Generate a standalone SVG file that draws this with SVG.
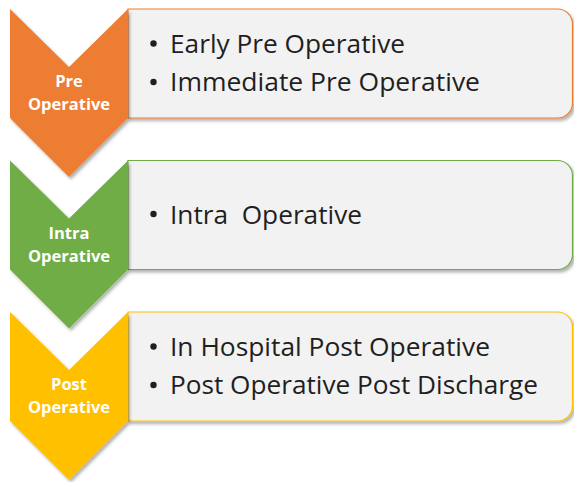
<svg xmlns="http://www.w3.org/2000/svg" width="574" height="482" viewBox="0 0 574 482">
  <style>
    .lbl { font-family: "Open Sans", "Liberation Sans", sans-serif; font-weight: bold; font-size: 16.5px; fill: #ffffff; text-anchor: middle; }
    .item { font-family: "Open Sans", "Liberation Sans", sans-serif; font-size: 25px; fill: #1f1f1f; }
    .box { fill: #f2f2f2; stroke-width: 1.2; }
    .dot { fill: #1f1f1f; }
  </style>
  <defs>
    <filter id="sh" x="-10%" y="-10%" width="125%" height="125%">
      <feDropShadow dx="2" dy="2.5" stdDeviation="1.6" flood-color="#000" flood-opacity="0.3"/>
    </filter>
  </defs>

  <g id="stage-pre">
    <path class="box" stroke="#ED7D31" filter="url(#sh)" d="M128,9 H557.5 A15,15 0 0 1 572.5,24 V103 A15,15 0 0 1 557.5,118 H128 Z"/>
    <path fill="#ED7D31" filter="url(#sh)" d="M10,9 L69,67 L128,9 L128,118 L69,177 L10,118 Z"/>
    <text class="lbl" x="69" y="87">Pre</text>
    <text class="lbl" x="69" y="110">Operative</text>
    <circle class="dot" cx="153.5" cy="43.5" r="3.2"/>
    <text class="item" x="170" y="53" textLength="235" lengthAdjust="spacingAndGlyphs">Early Pre Operative</text>
    <circle class="dot" cx="153.5" cy="82" r="3.2"/>
    <text class="item" x="170" y="91" textLength="310" lengthAdjust="spacingAndGlyphs">Immediate Pre Operative</text>
  </g>

  <g id="stage-intra">
    <path class="box" stroke="#70AD47" filter="url(#sh)" d="M128,160.5 H557.5 A15,15 0 0 1 572.5,175.5 V254.5 A15,15 0 0 1 557.5,269.5 H128 Z"/>
    <path fill="#70AD47" filter="url(#sh)" d="M10,160.5 L69,218.5 L128,160.5 L128,269.5 L69,328.5 L10,269.5 Z"/>
    <text class="lbl" x="69" y="238.5">Intra</text>
    <text class="lbl" x="69" y="261.5">Operative</text>
    <circle class="dot" cx="153.5" cy="214" r="3.2"/>
    <text class="item" x="170" y="223.5" textLength="192" lengthAdjust="spacingAndGlyphs" xml:space="preserve">Intra  Operative</text>
  </g>

  <g id="stage-post">
    <path class="box" stroke="#FFC000" filter="url(#sh)" d="M128,312 H557.5 A15,15 0 0 1 572.5,327 V406 A15,15 0 0 1 557.5,421 H128 Z"/>
    <path fill="#FFC000" filter="url(#sh)" d="M10,312 L69,370 L128,312 L128,421 L69,480 L10,421 Z"/>
    <text class="lbl" x="69" y="390">Post</text>
    <text class="lbl" x="69" y="413">Operative</text>
    <circle class="dot" cx="153.5" cy="346.5" r="3.2"/>
    <text class="item" x="170" y="356" textLength="320" lengthAdjust="spacingAndGlyphs">In Hospital Post Operative</text>
    <circle class="dot" cx="153.5" cy="385" r="3.2"/>
    <text class="item" x="170" y="394" textLength="368" lengthAdjust="spacingAndGlyphs">Post Operative Post Discharge</text>
  </g>

  <g id="connectors"></g>
</svg>
